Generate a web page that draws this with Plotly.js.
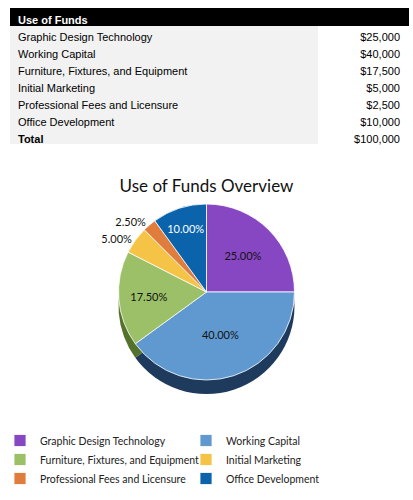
<!DOCTYPE html>
<html>
<head>
<meta charset="utf-8">
<script src="https://cdn.plot.ly/plotly-3.0.1.min.js"></script>
<style>
  html, body { margin: 0; padding: 0; background: #fff; }
  #chart { width: 413px; height: 500px; }
</style>
</head>
<body>
<div id="chart"></div>
<script>
// Use of funds data
const categories = [
    'Graphic Design Technology',
    'Working Capital',
    'Furniture, Fixtures, and Equipment',
    'Initial Marketing',
    'Professional Fees and Licensure',
    'Office Development'
];
const amounts = [25000, 40000, 17500, 5000, 2500, 10000];
const tableTitle = 'Use of Funds';
const totalLabel = 'Total';
const chartTitle = 'Use of Funds Overview';

// Slice colours (top face and side)
const topColors = ['#8747c2', '#5f99d0', '#9bc068', '#f5c447', '#e07d3c', '#0a63ab'];
const sideColors = ['#5a2a86', '#1e3a5c', '#55722c', '#a07c1e', '#8c4416', '#06375f'];

function money(v) {
    return '$' + v.toLocaleString('en-US');
}

const total = amounts.reduce((a, b) => a + b, 0);
const labelCol = categories.concat([totalLabel]);
const valueCol = amounts.map(money).concat([money(total)]);
// only the "Total" label is bold
const labelWeights = labelCol.map((_, i) => i === labelCol.length - 1 ? 'bold' : 'normal');
const valueWeights = valueCol.map(() => 'normal');

const tableTrace = {
    type: 'table',
    domain: { x: [10 / 413, 408 / 413], y: [0.70, 0.984] },
    columnwidth: [308, 90],
    header: {
        values: [tableTitle, ''],
        align: ['left', 'right'],
        fill: { color: '#000' },
        line: { width: 1, color: '#000' },
        font: { family: 'Liberation Sans, Arial', size: 11, color: '#fff', weight: 'bold' },
        height: 17
    },
    cells: {
        values: [labelCol, valueCol],
        align: ['left', 'right'],
        // translucent fills so the text descenders are not hidden by the next row
        fill: { color: ['rgba(0,0,0,0.051)', 'rgba(0,0,0,0)'] },
        line: { width: 0, color: 'rgba(0,0,0,0)' },
        font: { family: 'Liberation Sans, Arial', size: 11, color: '#000', weight: [labelWeights, valueWeights] },
        height: 17
    }
};

const pieFont = { family: 'Lato, Open Sans, sans-serif', size: 11 };

// darker copy sitting lower, gives the pie some depth
const sideTrace = {
    type: 'pie',
    labels: categories,
    values: amounts,
    sort: false,
    direction: 'clockwise',
    rotation: 0,
    domain: { x: [0, 1], y: [1 - 394 / 500, 1 - 218 / 500] },
    marker: { colors: sideColors, line: { width: 0 } },
    textinfo: 'none',
    hoverinfo: 'skip',
    showlegend: false
};

const pieTrace = {
    type: 'pie',
    labels: categories,
    values: amounts,
    sort: false,
    direction: 'clockwise',
    rotation: 0,
    domain: { x: [0, 1], y: [1 - 380 / 500, 1 - 204 / 500] },
    marker: { colors: topColors, line: { width: 0.8, color: '#ffffff' } },
    texttemplate: '%{percent:.2%}',
    textposition: ['inside', 'inside', 'inside', 'outside', 'outside', 'inside'],
    insidetextorientation: 'horizontal',
    textfont: Object.assign({}, pieFont, { color: ['#111', '#111', '#111', '#111', '#111', '#fff'] }),
    outsidetextfont: Object.assign({}, pieFont, { color: '#111' }),
    hoverinfo: 'label+percent'
};

const layout = {
    width: 413,
    height: 500,
    margin: { t: 0, r: 0, b: 0, l: 0 },
    paper_bgcolor: '#fff',
    title: {
        text: chartTitle,
        x: 0.5,
        xanchor: 'center',
        y: 1 - 186 / 500,
        yanchor: 'middle',
        font: { family: 'Lato, Open Sans, sans-serif', size: 17, color: '#111' }
    },
    showlegend: true,
    legend: {
        orientation: 'h',
        x: 0,
        xanchor: 'left',
        y: 1 - 426 / 500,
        yanchor: 'top',
        entrywidth: 141,
        entrywidthmode: 'pixels',
        traceorder: 'normal',
        font: { family: 'Lato, Open Sans, sans-serif', size: 10.5, color: '#222' },
        tracegroupgap: 0
    }
};

Plotly.newPlot('chart', [tableTrace, sideTrace, pieTrace], layout, { displayModeBar: false, staticPlot: true });
</script>
</body>
</html>
